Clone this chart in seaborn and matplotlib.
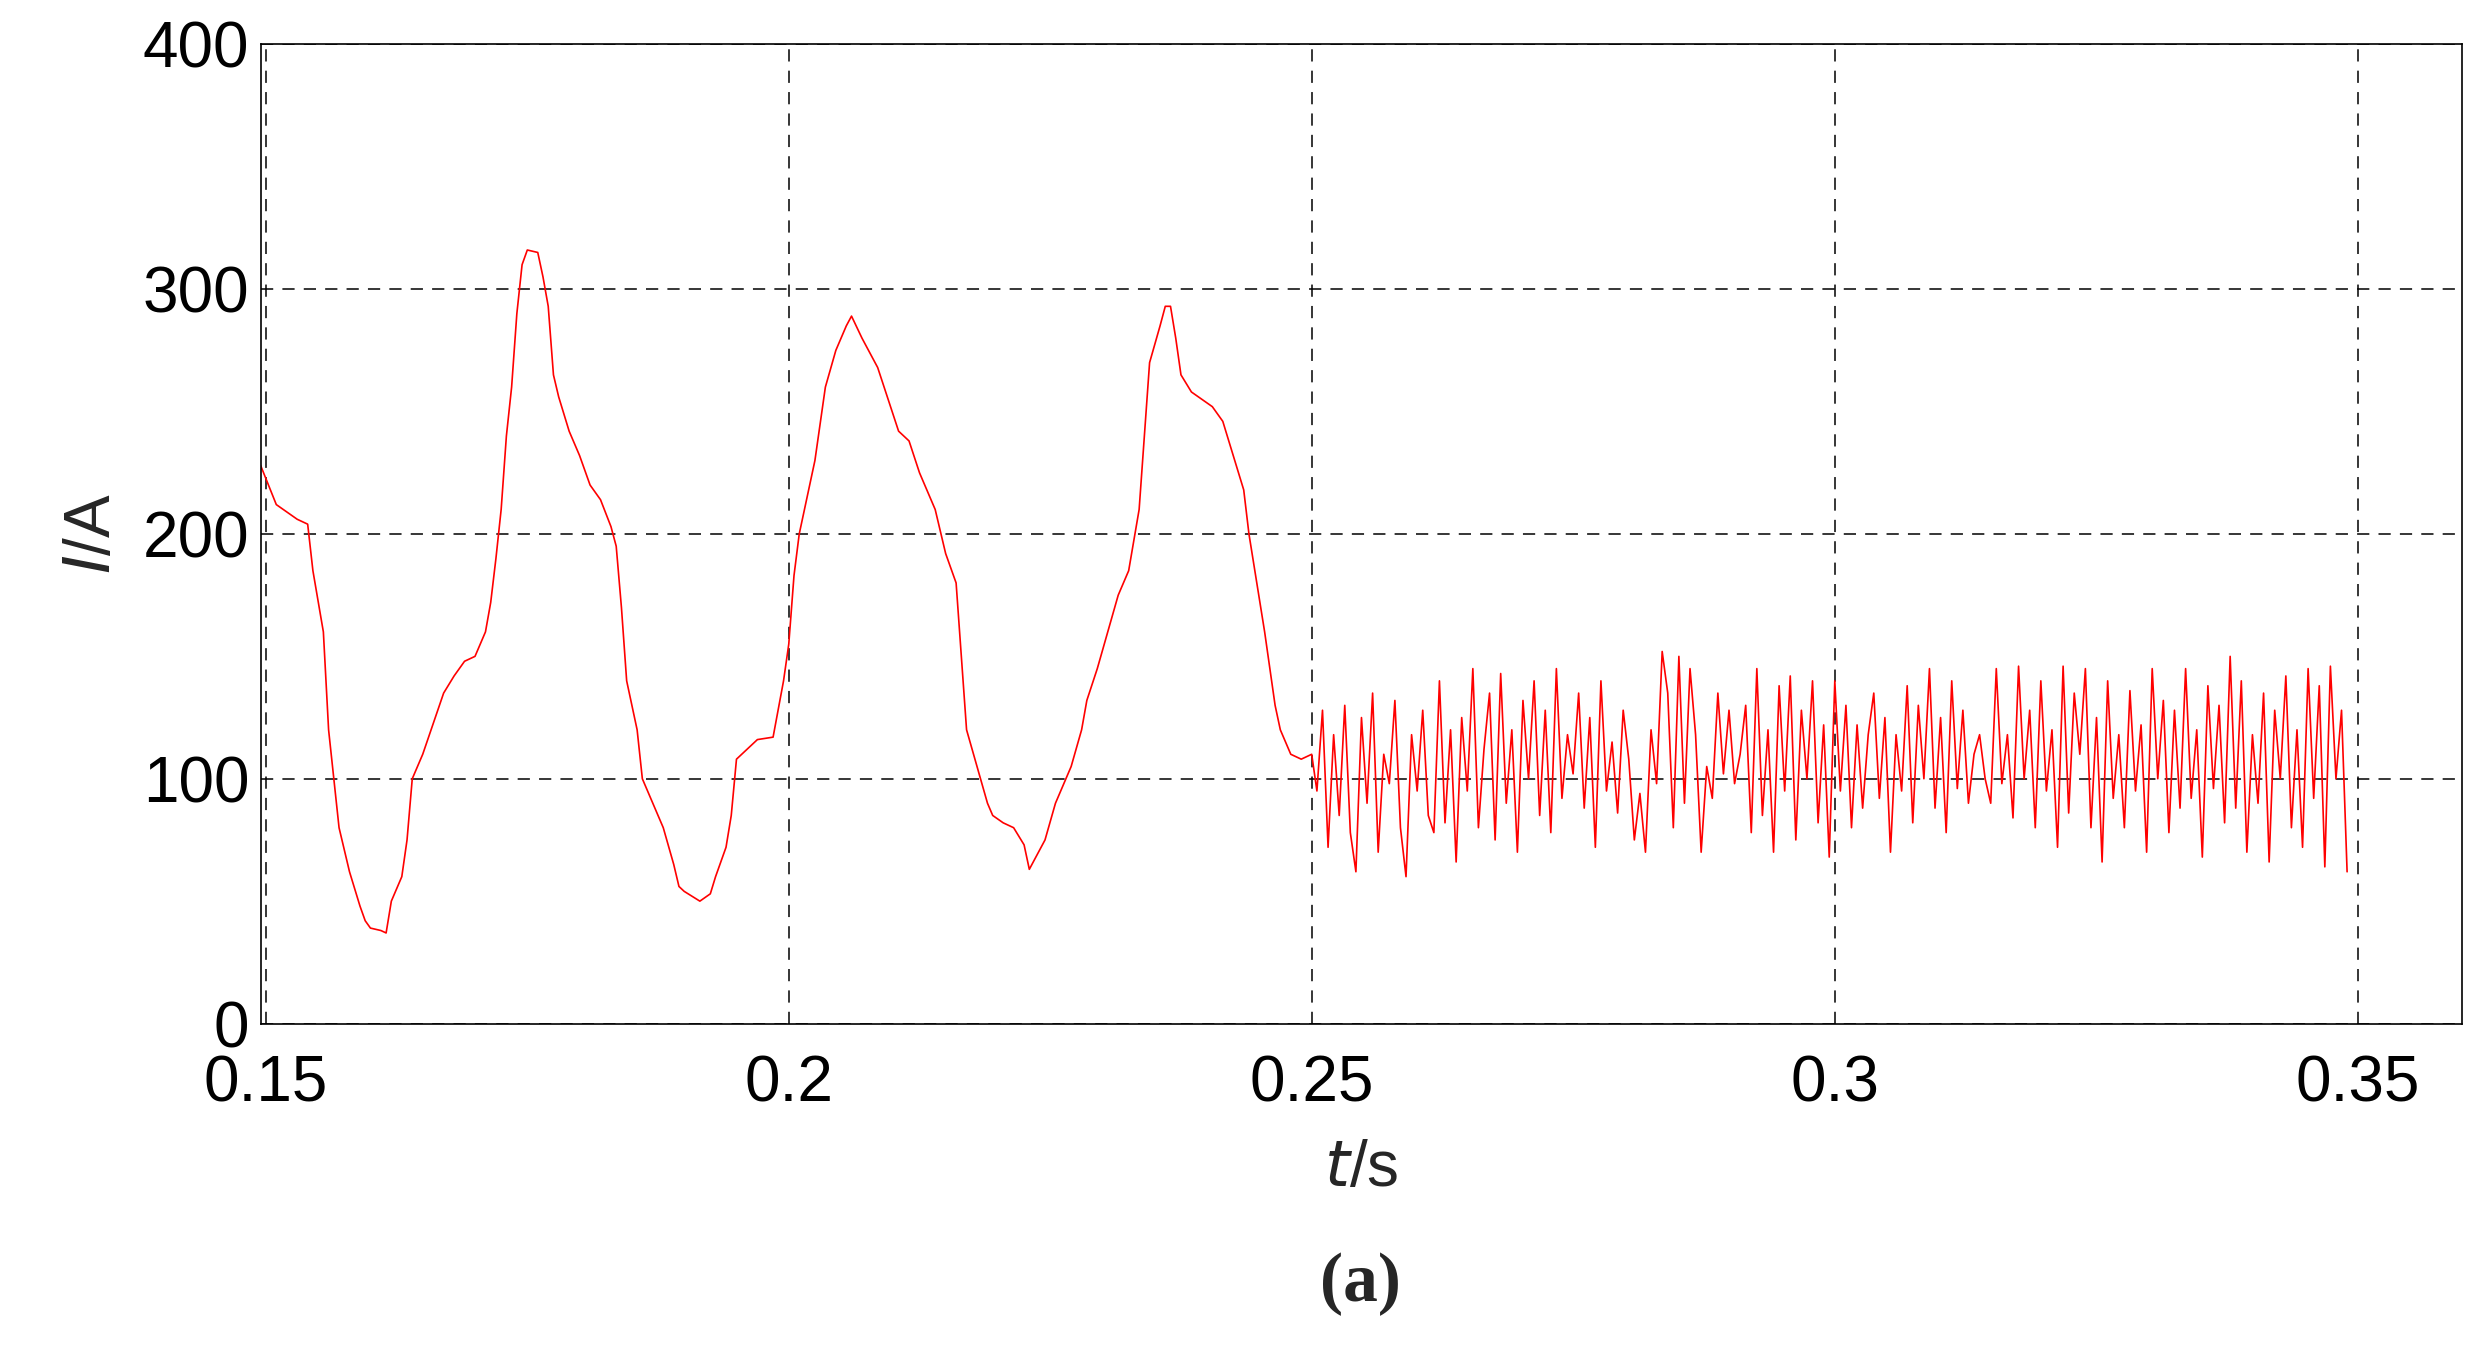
import numpy as np
import pandas as pd
import matplotlib
matplotlib.use("Agg")
import matplotlib.pyplot as plt
import seaborn as sns

# ── Data ─────────────────────────────────────────────────────────────────────
t_wave = [0.1495, 0.151, 0.153, 0.154, 0.1545, 0.1555, 0.156, 0.157, 0.158, 0.159,
          0.1595, 0.160, 0.161, 0.1615, 0.162, 0.163, 0.1635, 0.164, 0.165, 0.167,
          0.168, 0.169, 0.170, 0.171, 0.1715, 0.172, 0.1725, 0.173, 0.1735, 0.174,
          0.1745, 0.175, 0.176, 0.1765, 0.177, 0.1775, 0.178, 0.179, 0.180, 0.181,
          0.182, 0.183, 0.1835, 0.184, 0.1845, 0.1855, 0.186, 0.187, 0.188, 0.189,
          0.1895, 0.190, 0.1915, 0.1925, 0.193, 0.194, 0.1945, 0.195, 0.196, 0.197,
          0.1985, 0.1995, 0.200, 0.2005, 0.201, 0.2015, 0.2025, 0.2035, 0.2045, 0.2055,
          0.206, 0.207, 0.2085, 0.2095, 0.2105, 0.2115, 0.2125, 0.214, 0.215, 0.216,
          0.2165, 0.217, 0.218, 0.219, 0.2195, 0.2205, 0.2215, 0.2225, 0.223, 0.2245,
          0.2255, 0.227, 0.228, 0.2285, 0.2295, 0.2305, 0.2315, 0.2325, 0.2335, 0.234,
          0.2345, 0.2355, 0.236, 0.2365, 0.237, 0.2375, 0.2385, 0.2395, 0.2405, 0.2415,
          0.2425, 0.2435, 0.244, 0.2455, 0.2465, 0.247, 0.248, 0.249, 0.250]
i_wave = [228, 212, 206, 204, 185, 160, 120, 80, 62, 48,
          42, 39, 38, 37, 50, 60, 75, 100, 110, 135,
          142, 148, 150, 160, 172, 190, 210, 240, 260, 290,
          310, 316, 315, 305, 293, 265, 256, 242, 232, 220,
          214, 203, 195, 170, 140, 120, 100, 90, 80, 65,
          56, 54, 50, 53, 60, 72, 85, 108, 112, 116,
          117, 140, 155, 183, 200, 210, 230, 260, 275, 285,
          289, 280, 268, 255, 242, 238, 225, 210, 192, 180,
          150, 120, 105, 90, 85, 82, 80, 73, 63, 75,
          90, 105, 120, 132, 145, 160, 175, 185, 210, 240,
          270, 285, 293, 293, 280, 265, 258, 255, 252, 246,
          232, 218, 200, 160, 130, 120, 110, 108, 110]

i_noise = [95, 128, 72, 118, 85, 130, 78, 62, 125, 90, 135, 70, 110, 98, 132, 80, 60, 118,
           95, 128, 85, 78, 140, 82, 120, 66, 125, 95, 145, 80, 112, 135, 75, 143, 90, 120,
           70, 132, 100, 140, 85, 128, 78, 145, 92, 118, 102, 135, 88, 125, 72, 140, 95, 115,
           86, 128, 108, 75, 94, 70, 120, 98, 152, 135, 80, 150, 90, 145, 118, 70, 105, 92,
           135, 102, 128, 98, 110, 130, 78, 145, 85, 120, 70, 138, 95, 142, 75, 128, 100, 140,
           82, 122, 68, 140, 95, 130, 80, 122, 88, 118, 135, 92, 125, 70, 118, 95, 138, 82,
           130, 100, 145, 88, 125, 78, 140, 96, 128, 90, 110, 118, 100, 90, 145, 98, 118, 84,
           146, 100, 128, 80, 140, 95, 120, 72, 146, 86, 135, 110, 145, 80, 125, 66, 140, 92,
           118, 80, 136, 95, 122, 70, 145, 100, 132, 78, 128, 88, 145, 92, 120, 68, 138, 96,
           130, 82, 150, 88, 140, 70, 118, 90, 135, 66, 128, 100, 142, 80, 120, 72, 145, 92,
           138, 64, 146, 100, 128, 62]
t_noise = np.linspace(0.2505, 0.349, len(i_noise))

df = pd.DataFrame({"t": list(t_wave) + list(t_noise),
                   "i": list(i_wave) + list(i_noise)})

# ── Plot ─────────────────────────────────────────────────────────────────────
sns.set_style("white")
plt.rcParams["font.family"] = ["Liberation Sans", "DejaVu Sans"]

fig = plt.figure(figsize=(24.82, 13.45), dpi=100)
ax = fig.add_axes([0.105, 0.239, 0.887, 0.728])
sns.lineplot(data=df, x="t", y="i", color="red", lw=1.2, ax=ax, sort=False)

ax.set_xlim(0.1495, 0.36)
ax.set_ylim(0, 400)
ax.set_xticks([0.15, 0.2, 0.25, 0.3, 0.35])
ax.set_xticklabels(["0.15", "0.2", "0.25", "0.3", "0.35"])
ax.set_yticks([0, 100, 200, 300, 400])
ax.grid(True, color="black", linestyle=(0, (8, 6)), lw=1.1)
for s in ax.spines.values():
    s.set_color("black"); s.set_linewidth(1.2)
ax.tick_params(direction="in", length=8, labelsize=46, colors="black")
ax.tick_params(axis="x", pad=22)
ax.tick_params(axis="y", pad=8)
ax.set_xlabel(r"$\it{t}$/s", fontsize=46, labelpad=18)
ax.set_ylabel(r"$\it{I}$/A", fontsize=46, labelpad=14)
fig.text(0.548, 0.045, "(a)", fontsize=50, fontweight="bold",
         family="Liberation Serif", ha="center", va="center")

plt.savefig("out.png", dpi=100)
